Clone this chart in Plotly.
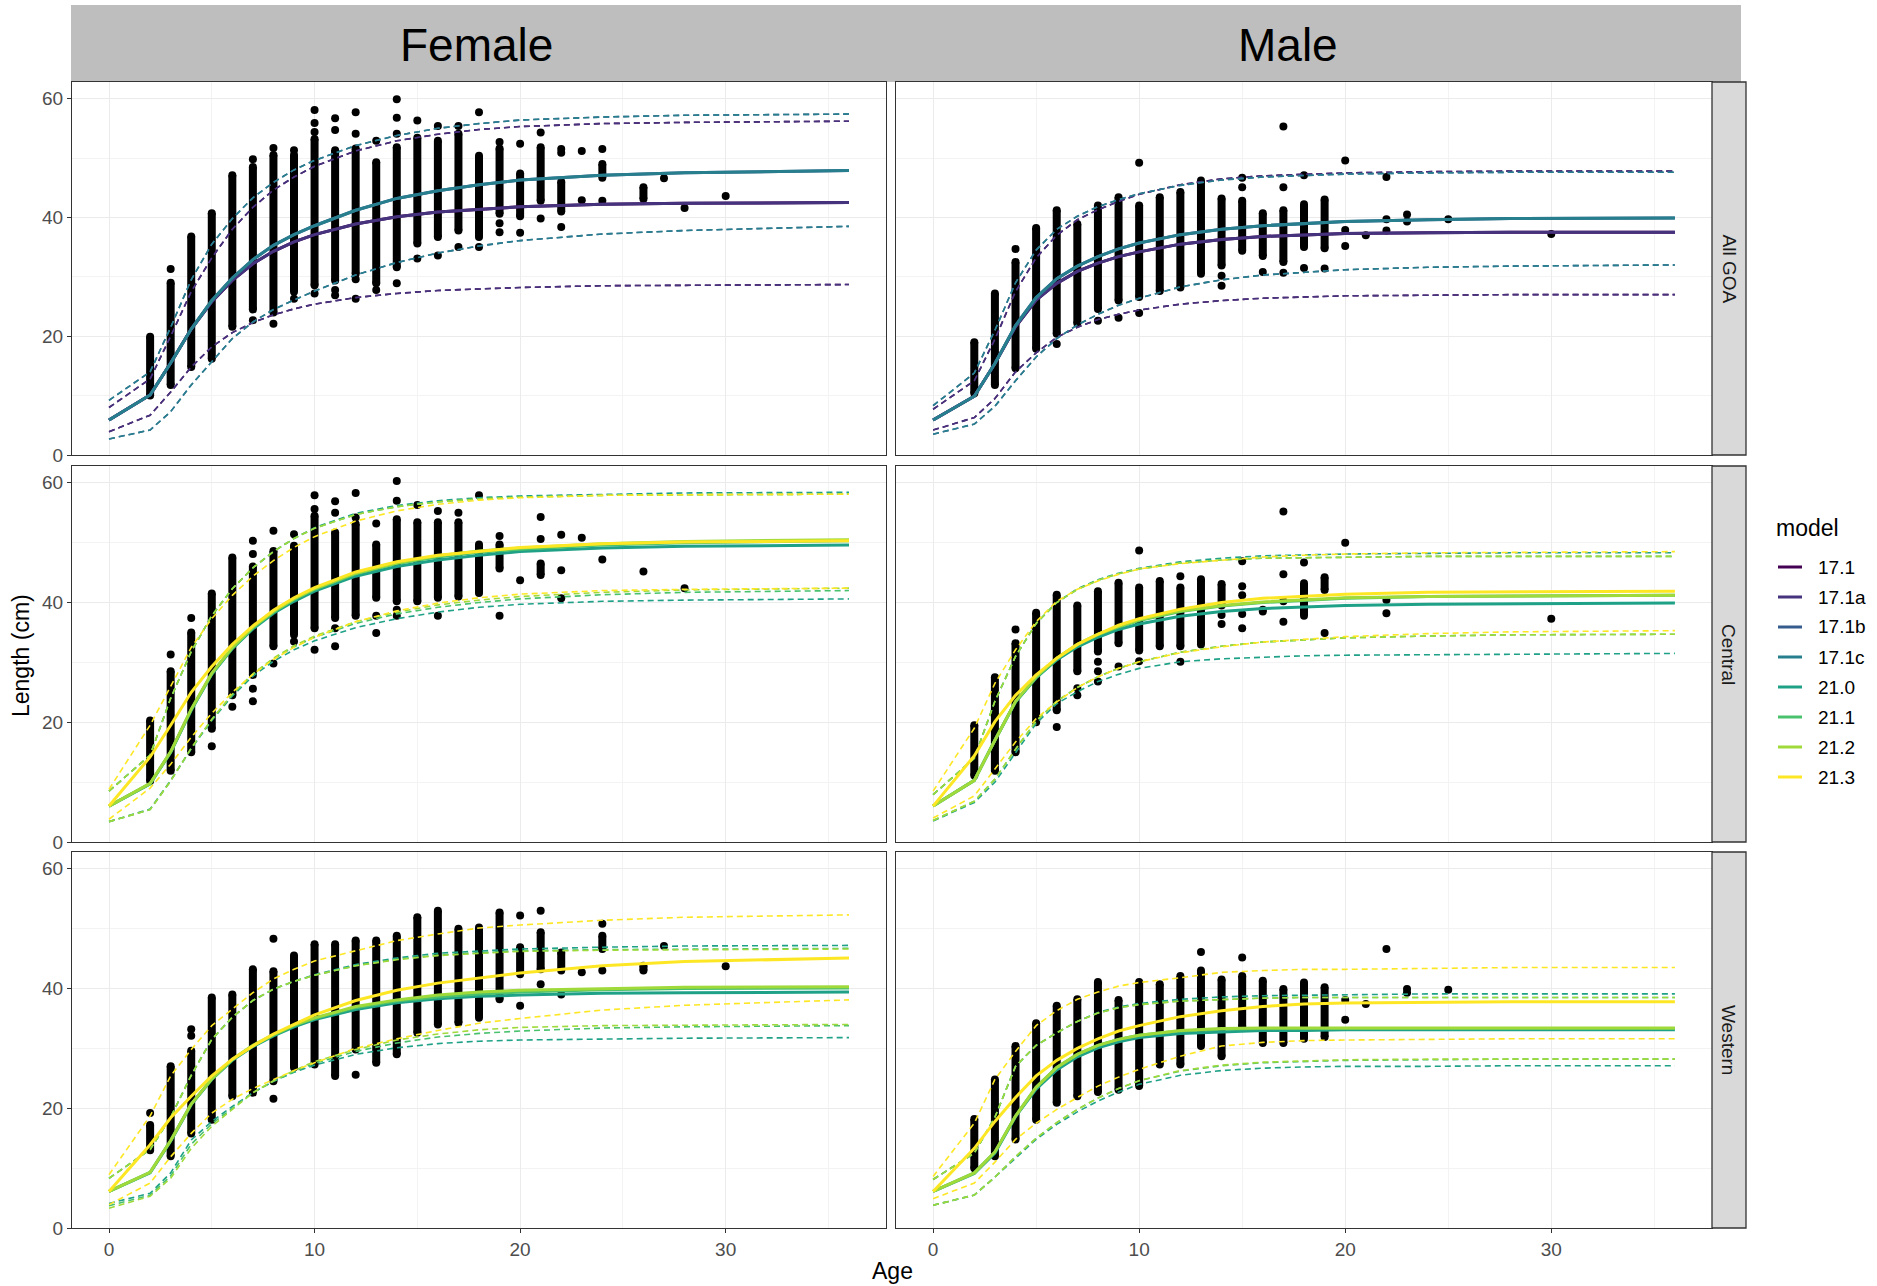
import plotly.graph_objects as go

# ---------------------------------------------------------------------------
# Facets, models and colours
# ---------------------------------------------------------------------------
SEXES = ["Female", "Male"]
REGIONS = ["All GOA", "Central", "Western"]
MODELS = ["17.1", "17.1a", "17.1b", "17.1c", "21.0", "21.1", "21.2", "21.3"]
MODEL_COLORS = ["#440154", "#46337E", "#365C8D", "#277F8E",
                "#1FA187", "#4AC16D", "#9FDA3A", "#FDE725"]

X_TICKS = [0, 10, 20, 30]
Y_TICKS = [0, 20, 40, 60]

# ages at which the fitted growth curves are tabulated
AGES = [0, 2, 3, 4, 5, 6, 7, 8, 9, 10, 12, 14, 16, 18, 20, 24, 28, 36]

# ---------------------------------------------------------------------------
# Fitted length-at-age (mean, lower, upper) -- All GOA
# ---------------------------------------------------------------------------
F_GOA_171_MEAN = [5.9, 10.1, 15.5, 21.2, 25.8, 29.4, 32.2, 34.3, 35.9, 37.1, 38.9, 40.1, 40.9, 41.4, 41.8, 42.2, 42.4, 42.5]
F_GOA_171_LO = [3.9, 6.7, 10.6, 14.8, 18.2, 20.6, 22.3, 23.6, 24.6, 25.4, 26.5, 27.2, 27.7, 28.0, 28.2, 28.5, 28.6, 28.7]
F_GOA_171_HI = [8.0, 12.8, 20.0, 27.5, 33.2, 38.0, 41.7, 44.6, 46.8, 48.6, 51.2, 52.9, 54.0, 54.8, 55.3, 55.8, 56.0, 56.2]
F_GOA_171C_MEAN = [5.9, 10.1, 15.5, 21.2, 26.0, 29.8, 32.9, 35.3, 37.1, 38.6, 41.2, 43.2, 44.5, 45.5, 46.3, 47.1, 47.5, 47.9]
F_GOA_171C_LO = [2.7, 4.2, 7.3, 11.8, 15.7, 19.6, 22.4, 24.5, 26.1, 27.6, 30.3, 32.4, 34.0, 35.2, 36.1, 37.2, 37.8, 38.5]
F_GOA_171C_HI = [9.2, 14.0, 21.5, 29.5, 35.5, 39.8, 43.3, 45.9, 48.0, 49.6, 52.1, 53.8, 55.0, 55.8, 56.4, 56.9, 57.2, 57.4]

M_GOA_171_MEAN = [5.9, 9.9, 15.4, 21.6, 26.1, 28.9, 30.9, 32.3, 33.4, 34.2, 35.5, 36.3, 36.8, 37.1, 37.3, 37.4, 37.5, 37.5]
M_GOA_171_LO = [4.2, 6.3, 9.5, 14.0, 17.2, 19.8, 21.5, 22.8, 23.7, 24.4, 25.4, 26.0, 26.4, 26.6, 26.8, 26.9, 27.0, 27.0]
M_GOA_171_HI = [7.7, 12.5, 19.5, 27.5, 33.2, 37.0, 39.6, 41.3, 42.7, 43.9, 45.5, 46.5, 47.0, 47.3, 47.5, 47.7, 47.8, 47.8]
M_GOA_171C_MEAN = [5.9, 9.9, 15.4, 21.8, 26.5, 29.7, 31.8, 33.4, 34.7, 35.7, 37.1, 38.0, 38.6, 39.0, 39.3, 39.6, 39.8, 39.9]
M_GOA_171C_LO = [3.5, 5.2, 8.2, 12.5, 16.5, 19.6, 21.9, 23.7, 25.2, 26.4, 28.3, 29.5, 30.3, 30.8, 31.2, 31.6, 31.8, 32.0]
M_GOA_171C_HI = [8.3, 13.8, 21.0, 29.0, 34.5, 38.0, 40.2, 41.8, 43.0, 44.0, 45.4, 46.3, 46.8, 47.1, 47.3, 47.5, 47.6, 47.6]

# ---------------------------------------------------------------------------
# Fitted length-at-age -- Central
# ---------------------------------------------------------------------------
F_C_210_MEAN = [6.0, 9.7, 15.0, 22.0, 28.0, 32.3, 35.6, 38.2, 40.2, 41.9, 44.4, 46.0, 47.1, 47.9, 48.5, 49.1, 49.4, 49.6]
F_C_210_LO = [3.4, 5.5, 10.3, 15.6, 20.3, 24.4, 27.7, 30.2, 32.1, 33.6, 35.8, 37.3, 38.4, 39.2, 39.7, 40.2, 40.4, 40.6]
F_C_210_HI = [8.5, 14.5, 24.0, 31.8, 37.8, 42.3, 45.8, 48.5, 50.7, 52.5, 54.9, 56.2, 57.0, 57.5, 57.8, 58.1, 58.3, 58.4]
F_C_211_MEAN = [6.0, 9.7, 15.0, 22.1, 28.1, 32.4, 35.8, 38.4, 40.5, 42.2, 44.8, 46.5, 47.6, 48.4, 48.9, 49.6, 50.0, 50.3]
F_C_211_LO = [3.4, 5.4, 10.2, 15.6, 20.4, 24.6, 28.0, 30.6, 32.6, 34.2, 36.5, 38.1, 39.2, 40.0, 40.6, 41.3, 41.7, 42.0]
F_C_211_HI = [8.5, 14.5, 24.0, 31.8, 37.8, 42.3, 45.8, 48.5, 50.7, 52.4, 54.7, 56.0, 56.8, 57.3, 57.6, 57.9, 58.0, 58.1]
F_C_212_MEAN = [6.0, 9.8, 15.1, 22.2, 28.2, 32.5, 35.9, 38.5, 40.6, 42.3, 44.9, 46.6, 47.8, 48.6, 49.1, 49.8, 50.2, 50.5]
F_C_212_LO = [3.4, 5.4, 10.2, 15.7, 20.5, 24.7, 28.1, 30.7, 32.8, 34.4, 36.8, 38.4, 39.6, 40.4, 41.0, 41.7, 42.1, 42.4]
F_C_212_HI = [8.5, 14.5, 24.0, 31.8, 37.8, 42.3, 45.8, 48.5, 50.7, 52.4, 54.7, 56.0, 56.8, 57.3, 57.6, 57.9, 58.0, 58.1]
F_C_213_MEAN = [6.0, 14.2, 19.5, 25.0, 29.3, 33.0, 36.1, 38.7, 40.8, 42.5, 45.1, 46.8, 47.9, 48.6, 49.2, 49.8, 50.1, 50.3]
F_C_213_LO = [3.8, 9.0, 13.0, 17.5, 21.5, 25.0, 28.0, 30.5, 32.5, 34.2, 36.8, 38.6, 39.9, 40.8, 41.4, 42.0, 42.2, 42.4]
F_C_213_HI = [8.8, 19.5, 26.0, 32.5, 37.3, 41.2, 44.4, 47.0, 49.2, 51.0, 53.6, 55.3, 56.4, 57.1, 57.5, 57.9, 58.0, 58.1]

M_C_210_MEAN = [6.0, 10.3, 17.0, 23.4, 27.4, 30.4, 32.6, 34.2, 35.5, 36.4, 37.7, 38.5, 39.0, 39.3, 39.5, 39.7, 39.8, 39.9]
M_C_210_LO = [3.5, 6.6, 10.0, 15.0, 19.8, 23.1, 25.1, 26.8, 28.0, 29.0, 30.1, 30.6, 30.9, 31.1, 31.2, 31.3, 31.4, 31.5]
M_C_210_HI = [7.9, 14.0, 23.5, 31.0, 36.5, 40.0, 42.3, 43.8, 44.9, 45.7, 46.8, 47.4, 47.8, 48.0, 48.1, 48.2, 48.3, 48.3]
M_C_211_MEAN = [6.0, 10.3, 17.0, 23.4, 27.5, 30.6, 32.9, 34.6, 35.9, 37.0, 38.5, 39.4, 40.0, 40.4, 40.7, 41.0, 41.1, 41.2]
M_C_211_LO = [3.6, 6.8, 10.5, 15.5, 20.2, 23.5, 25.8, 27.6, 29.0, 30.1, 31.7, 32.7, 33.4, 33.8, 34.1, 34.4, 34.6, 34.7]
M_C_211_HI = [7.9, 14.0, 23.5, 31.0, 36.5, 40.0, 42.2, 43.7, 44.8, 45.6, 46.6, 47.1, 47.4, 47.5, 47.6, 47.7, 47.7, 47.7]
M_C_212_MEAN = [6.0, 10.3, 17.0, 23.5, 27.6, 30.7, 33.0, 34.7, 36.0, 37.1, 38.6, 39.5, 40.1, 40.5, 40.8, 41.0, 41.1, 41.2]
M_C_212_LO = [3.6, 6.8, 10.5, 15.5, 20.2, 23.5, 25.8, 27.6, 29.0, 30.1, 31.7, 32.7, 33.4, 33.8, 34.1, 34.4, 34.6, 34.7]
M_C_212_HI = [7.9, 14.0, 23.5, 31.0, 36.5, 40.0, 42.2, 43.7, 44.8, 45.6, 46.6, 47.1, 47.4, 47.5, 47.6, 47.7, 47.7, 47.7]
M_C_213_MEAN = [6.0, 14.4, 20.1, 24.5, 27.9, 30.7, 33.0, 34.7, 36.2, 37.3, 38.9, 40.0, 40.7, 41.1, 41.4, 41.7, 41.8, 41.9]
M_C_213_LO = [4.0, 7.7, 12.2, 16.7, 20.6, 23.4, 25.8, 27.6, 29.0, 30.1, 31.6, 32.6, 33.4, 33.9, 34.3, 34.8, 35.1, 35.3]
M_C_213_HI = [8.5, 19.0, 26.5, 32.1, 36.8, 40.2, 42.2, 43.6, 44.7, 45.6, 46.5, 47.1, 47.6, 47.9, 48.1, 48.3, 48.4, 48.5]

# ---------------------------------------------------------------------------
# Fitted length-at-age -- Western
# ---------------------------------------------------------------------------
F_W_210_MEAN = [6.1, 9.2, 14.5, 20.6, 24.8, 28.0, 30.3, 32.1, 33.6, 34.8, 36.5, 37.6, 38.3, 38.7, 38.9, 39.2, 39.3, 39.4]
F_W_210_LO = [4.1, 5.8, 9.2, 14.7, 17.8, 20.3, 22.6, 24.5, 26.0, 27.2, 29.0, 30.1, 30.8, 31.2, 31.4, 31.6, 31.7, 31.8]
F_W_210_HI = [8.3, 13.1, 18.5, 25.5, 31.5, 35.2, 38.0, 39.9, 41.2, 42.3, 44.0, 45.1, 45.9, 46.3, 46.6, 46.9, 47.1, 47.2]
F_W_211_MEAN = [6.1, 9.3, 14.6, 20.7, 24.9, 28.1, 30.4, 32.2, 33.8, 35.0, 36.8, 37.9, 38.6, 39.1, 39.4, 39.8, 40.0, 40.1]
F_W_211_LO = [3.7, 5.5, 8.7, 14.0, 17.4, 20.0, 22.6, 24.5, 26.1, 27.5, 29.5, 30.9, 31.9, 32.5, 32.9, 33.4, 33.6, 33.8]
F_W_211_HI = [8.3, 13.1, 18.5, 25.5, 31.5, 35.2, 38.0, 39.9, 41.2, 42.2, 43.8, 44.9, 45.6, 46.0, 46.3, 46.5, 46.6, 46.7]
F_W_212_MEAN = [6.1, 9.3, 14.6, 20.7, 24.9, 28.2, 30.5, 32.3, 33.9, 35.1, 37.0, 38.1, 38.9, 39.4, 39.7, 40.0, 40.2, 40.3]
F_W_212_LO = [3.3, 5.3, 8.3, 13.3, 17.0, 19.8, 22.6, 24.6, 26.3, 27.8, 29.8, 31.4, 32.4, 33.1, 33.5, 33.8, 33.9, 34.0]
F_W_212_HI = [8.3, 13.1, 18.5, 25.5, 31.5, 35.2, 38.0, 39.9, 41.2, 42.2, 43.8, 44.8, 45.5, 45.9, 46.2, 46.4, 46.5, 46.6]
F_W_213_MEAN = [6.1, 13.9, 18.4, 22.0, 25.4, 28.2, 30.4, 32.4, 34.0, 35.6, 38.0, 39.7, 40.9, 41.8, 42.6, 43.8, 44.5, 45.1]
F_W_213_LO = [3.9, 7.5, 11.9, 15.8, 19.2, 21.5, 23.3, 24.8, 26.3, 27.6, 30.0, 31.6, 33.0, 34.2, 35.0, 36.4, 37.2, 38.1]
F_W_213_HI = [8.9, 18.7, 25.4, 29.8, 33.8, 36.5, 39.3, 41.6, 43.2, 44.6, 46.3, 48.0, 49.1, 50.1, 50.6, 51.4, 51.9, 52.3]

M_W_210_MEAN = [6.1, 9.1, 12.5, 18.6, 23.2, 26.4, 28.6, 30.1, 31.1, 31.8, 32.5, 32.8, 33.0, 33.0, 33.1, 33.1, 33.1, 33.1]
M_W_210_LO = [3.8, 5.5, 8.5, 11.7, 14.8, 17.3, 19.4, 21.2, 22.7, 24.0, 25.5, 26.3, 26.7, 26.9, 27.0, 27.0, 27.1, 27.1]
M_W_210_HI = [8.1, 12.5, 18.5, 27.0, 30.5, 32.6, 34.5, 36.0, 36.9, 37.5, 38.2, 38.6, 38.8, 38.9, 39.0, 39.1, 39.1, 39.1]
M_W_211_MEAN = [6.1, 9.2, 12.7, 18.7, 23.5, 26.8, 29.0, 30.5, 31.5, 32.2, 32.9, 33.2, 33.3, 33.3, 33.3, 33.3, 33.3, 33.3]
M_W_211_LO = [3.8, 5.5, 8.5, 11.9, 15.0, 17.6, 19.8, 21.7, 23.3, 24.6, 26.2, 27.1, 27.6, 27.8, 28.0, 28.1, 28.2, 28.2]
M_W_211_HI = [8.1, 12.5, 18.5, 27.0, 30.5, 32.6, 34.5, 35.9, 36.8, 37.3, 37.9, 38.2, 38.4, 38.5, 38.5, 38.5, 38.5, 38.5]
M_W_212_MEAN = [6.1, 9.2, 12.7, 18.7, 23.5, 26.8, 29.0, 30.5, 31.5, 32.2, 33.0, 33.3, 33.4, 33.4, 33.4, 33.4, 33.4, 33.4]
M_W_212_LO = [3.8, 5.5, 8.5, 11.9, 15.0, 17.6, 19.8, 21.7, 23.3, 24.6, 26.3, 27.2, 27.7, 27.9, 28.1, 28.2, 28.2, 28.2]
M_W_212_HI = [8.1, 12.5, 18.5, 27.0, 30.5, 32.6, 34.5, 35.9, 36.8, 37.3, 37.9, 38.2, 38.4, 38.5, 38.5, 38.5, 38.5, 38.5]
M_W_213_MEAN = [6.1, 13.3, 17.8, 21.8, 25.4, 28.0, 30.0, 31.6, 32.9, 33.8, 35.3, 36.3, 37.0, 37.4, 37.6, 37.7, 37.8, 37.8]
M_W_213_LO = [4.9, 7.5, 11.0, 14.8, 17.5, 19.8, 21.8, 23.7, 25.2, 26.5, 28.7, 30.4, 31.0, 31.3, 31.4, 31.5, 31.6, 31.6]
M_W_213_HI = [8.6, 17.5, 24.8, 29.5, 33.8, 36.3, 38.2, 39.4, 40.4, 41.0, 41.8, 42.7, 43.0, 43.2, 43.2, 43.4, 43.5, 43.5]

# ---------------------------------------------------------------------------
# Observed lengths: dense age columns (age, min, max) + scattered fish
# ---------------------------------------------------------------------------
F_GOA_COL_AGE = [2, 3, 4, 5, 6, 7, 8, 9, 10, 11, 12, 13, 14, 15, 16, 17, 18, 19, 20, 21, 22, 24, 26]
F_GOA_COL_LO = [10.0, 11.8, 14.8, 16.2, 21.6, 24.5, 24.0, 27.5, 28.6, 29.4, 30.5, 28.9, 31.6, 35.6, 36.7, 37.8, 36.7, 40.6, 40.2, 42.8, 41.0, 46.7, 43.1]
F_GOA_COL_HI = [19.9, 29.0, 36.8, 40.7, 47.1, 48.5, 50.5, 50.5, 53.2, 51.3, 51.6, 49.3, 51.8, 53.4, 52.9, 54.1, 50.4, 51.6, 47.4, 51.8, 46.0, 49.0, 45.1]
F_GOA_PT_AGE = [3, 7, 7, 8, 8, 9, 9, 10, 10, 10, 10, 11, 11, 11, 11, 12, 12, 12, 12, 13, 13,
                14, 14, 14, 14, 15, 15, 16, 16, 17, 17, 18, 18, 19, 19, 19, 20, 20, 21, 21,
                22, 22, 22, 23, 23, 24, 24, 27, 28, 30]
F_GOA_PT_LEN = [31.3, 49.8, 22.7, 51.7, 22.1, 51.3, 26.3, 58.1, 55.9, 54.4, 27.2, 56.7, 54.7, 27.8, 26.9, 57.7, 54.1, 29.6, 26.3, 52.9, 27.8,
                59.9, 56.8, 54.1, 28.9, 56.3, 33.1, 55.4, 33.6, 55.4, 35.0, 57.7, 35.0, 52.7, 39.0, 37.5, 52.4, 37.4, 54.3, 39.8,
                51.5, 50.9, 38.4, 51.2, 42.9, 51.5, 42.8, 46.6, 41.6, 43.6]

M_GOA_COL_AGE = [2, 3, 4, 5, 6, 7, 8, 9, 10, 11, 12, 13, 14, 15, 16, 17, 18, 19]
M_GOA_COL_LO = [10.4, 11.8, 14.6, 17.9, 20.4, 22.2, 24.6, 26.0, 26.6, 27.6, 28.2, 30.5, 31.9, 34.4, 33.5, 32.5, 35.0, 34.8]
M_GOA_COL_HI = [19.0, 27.2, 32.5, 38.2, 41.2, 38.9, 42.0, 43.4, 42.0, 43.4, 44.3, 46.2, 43.2, 42.8, 40.7, 41.2, 42.2, 43.0]
M_GOA_PT_AGE = [4, 6, 8, 9, 10, 10, 14, 14, 15, 15, 16, 17, 17, 17, 18, 18, 19,
                20, 20, 20, 21, 22, 22, 22, 23, 23, 25, 30]
M_GOA_PT_LEN = [34.7, 18.7, 22.6, 23.1, 49.2, 23.9, 30.2, 28.5, 46.7, 45.1, 30.8, 55.3, 45.1, 30.7, 47.1, 31.5, 31.4,
                49.6, 37.9, 35.2, 37.0, 46.8, 39.7, 37.8, 40.5, 39.3, 39.7, 37.2]

F_C_COL_AGE = [2, 3, 4, 5, 6, 7, 8, 9, 10, 11, 12, 13, 14, 15, 16, 17, 18, 19, 21]
F_C_COL_LO = [10.2, 11.9, 15.0, 18.9, 24.5, 27.9, 32.7, 34.6, 35.7, 37.4, 37.8, 40.8, 40.2, 40.2, 40.8, 41.0, 41.6, 45.7, 44.6]
F_C_COL_HI = [20.3, 28.5, 35.0, 41.5, 47.5, 46.0, 48.6, 49.5, 54.5, 51.7, 53.1, 49.7, 53.9, 53.4, 53.4, 53.4, 49.7, 49.7, 46.5]
F_C_PT_AGE = [3, 4, 5, 6, 7, 7, 7, 7, 8, 8, 9, 9, 10, 10, 10, 11, 11, 11, 11, 12, 12,
              13, 13, 13, 14, 14, 14, 14, 15, 16, 16, 17, 18, 19, 19, 20, 21, 21,
              22, 22, 22, 23, 24, 26, 28]
F_C_PT_LEN = [31.3, 37.4, 16.0, 22.6, 50.3, 48.1, 25.6, 23.5, 52.0, 29.8, 51.4, 33.5, 57.9, 55.6, 32.1, 56.9, 55.0, 35.7, 32.7, 58.3, 54.2,
              53.2, 37.8, 34.9, 60.3, 57.0, 38.8, 37.8, 56.3, 55.3, 37.8, 55.0, 57.9, 51.1, 37.8, 43.7, 54.3, 50.6,
              51.3, 45.4, 40.7, 50.8, 47.2, 45.2, 42.4]

M_C_COL_AGE = [2, 3, 4, 5, 6, 7, 8, 9, 10, 11, 12, 13, 14, 18, 19]
M_C_COL_LO = [11.1, 11.9, 15.0, 20.0, 22.0, 28.5, 31.8, 33.2, 32.0, 32.7, 32.7, 33.0, 39.5, 37.8, 42.1]
M_C_COL_HI = [19.5, 27.5, 33.2, 38.3, 41.3, 39.5, 41.9, 43.3, 42.5, 43.6, 42.5, 43.9, 43.1, 43.2, 44.2]
M_C_PT_AGE = [4, 6, 7, 7, 8, 8, 8, 9, 10, 10, 12, 12, 14, 14, 15, 15, 15, 15, 15, 16, 16,
              17, 17, 17, 17, 18, 19, 20, 22, 22, 30]
M_C_PT_LEN = [35.5, 19.2, 25.7, 24.5, 30.1, 28.5, 26.8, 29.3, 48.7, 30.2, 44.4, 30.1, 37.9, 36.4, 46.9, 42.7, 41.2, 38.1, 35.7, 38.8, 38.5,
              55.2, 44.7, 40.2, 36.8, 46.7, 34.9, 50.0, 40.4, 38.2, 37.3]

F_W_COL_AGE = [2, 3, 4, 5, 6, 7, 8, 9, 10, 11, 12, 13, 14, 15, 16, 17, 18, 19, 20, 21, 22, 24, 26]
F_W_COL_LO = [13.0, 12.0, 15.8, 18.1, 22.0, 22.6, 24.5, 26.8, 27.3, 25.4, 29.8, 27.6, 29.0, 32.6, 34.0, 34.3, 35.1, 38.2, 42.4, 43.2, 43.0, 46.6, 43.0]
F_W_COL_HI = [17.2, 27.0, 29.6, 38.5, 39.0, 43.2, 42.9, 45.5, 47.4, 47.4, 48.0, 48.0, 48.8, 51.9, 53.0, 50.0, 50.2, 52.7, 46.9, 49.4, 46.0, 48.8, 43.8]
F_W_PT_AGE = [2, 4, 4, 8, 8, 12, 20, 20, 21, 21, 22, 23, 24, 24, 27, 30]
F_W_PT_LEN = [19.2, 33.2, 32.1, 48.3, 21.6, 25.6, 52.2, 37.1, 53.0, 40.7, 39.0, 42.7, 50.8, 43.0, 47.1, 43.7]

M_W_COL_AGE = [2, 3, 4, 5, 6, 7, 8, 9, 10, 11, 12, 13, 14, 15, 16, 17, 18, 19]
M_W_COL_LO = [10.0, 12.0, 14.8, 18.1, 20.9, 22.0, 22.7, 23.1, 23.7, 27.3, 27.3, 30.4, 28.7, 33.7, 30.9, 30.9, 31.6, 31.9]
M_W_COL_HI = [18.2, 24.8, 30.4, 34.2, 37.1, 38.2, 41.1, 38.1, 41.1, 40.7, 42.1, 43.0, 41.5, 42.1, 41.3, 39.9, 41.0, 40.2]
M_W_PT_AGE = [13, 15, 20, 20, 21, 22, 23, 23, 25]
M_W_PT_LEN = [46.1, 45.2, 38.1, 34.8, 37.4, 46.6, 39.9, 39.3, 39.8]

# ---------------------------------------------------------------------------
# Assemble per-panel tables
# ---------------------------------------------------------------------------
CURVES = {
    ("Female", "All GOA"): {
        "17.1": (F_GOA_171_MEAN, F_GOA_171_LO, F_GOA_171_HI),
        "17.1a": (F_GOA_171_MEAN, F_GOA_171_LO, F_GOA_171_HI),
        "17.1b": (F_GOA_171C_MEAN, F_GOA_171C_LO, F_GOA_171C_HI),
        "17.1c": (F_GOA_171C_MEAN, F_GOA_171C_LO, F_GOA_171C_HI),
    },
    ("Male", "All GOA"): {
        "17.1": (M_GOA_171_MEAN, M_GOA_171_LO, M_GOA_171_HI),
        "17.1a": (M_GOA_171_MEAN, M_GOA_171_LO, M_GOA_171_HI),
        "17.1b": (M_GOA_171C_MEAN, M_GOA_171C_LO, M_GOA_171C_HI),
        "17.1c": (M_GOA_171C_MEAN, M_GOA_171C_LO, M_GOA_171C_HI),
    },
    ("Female", "Central"): {
        "21.0": (F_C_210_MEAN, F_C_210_LO, F_C_210_HI),
        "21.1": (F_C_211_MEAN, F_C_211_LO, F_C_211_HI),
        "21.2": (F_C_212_MEAN, F_C_212_LO, F_C_212_HI),
        "21.3": (F_C_213_MEAN, F_C_213_LO, F_C_213_HI),
    },
    ("Male", "Central"): {
        "21.0": (M_C_210_MEAN, M_C_210_LO, M_C_210_HI),
        "21.1": (M_C_211_MEAN, M_C_211_LO, M_C_211_HI),
        "21.2": (M_C_212_MEAN, M_C_212_LO, M_C_212_HI),
        "21.3": (M_C_213_MEAN, M_C_213_LO, M_C_213_HI),
    },
    ("Female", "Western"): {
        "21.0": (F_W_210_MEAN, F_W_210_LO, F_W_210_HI),
        "21.1": (F_W_211_MEAN, F_W_211_LO, F_W_211_HI),
        "21.2": (F_W_212_MEAN, F_W_212_LO, F_W_212_HI),
        "21.3": (F_W_213_MEAN, F_W_213_LO, F_W_213_HI),
    },
    ("Male", "Western"): {
        "21.0": (M_W_210_MEAN, M_W_210_LO, M_W_210_HI),
        "21.1": (M_W_211_MEAN, M_W_211_LO, M_W_211_HI),
        "21.2": (M_W_212_MEAN, M_W_212_LO, M_W_212_HI),
        "21.3": (M_W_213_MEAN, M_W_213_LO, M_W_213_HI),
    },
}

OBS = {
    ("Female", "All GOA"): (F_GOA_COL_AGE, F_GOA_COL_LO, F_GOA_COL_HI, F_GOA_PT_AGE, F_GOA_PT_LEN),
    ("Male", "All GOA"): (M_GOA_COL_AGE, M_GOA_COL_LO, M_GOA_COL_HI, M_GOA_PT_AGE, M_GOA_PT_LEN),
    ("Female", "Central"): (F_C_COL_AGE, F_C_COL_LO, F_C_COL_HI, F_C_PT_AGE, F_C_PT_LEN),
    ("Male", "Central"): (M_C_COL_AGE, M_C_COL_LO, M_C_COL_HI, M_C_PT_AGE, M_C_PT_LEN),
    ("Female", "Western"): (F_W_COL_AGE, F_W_COL_LO, F_W_COL_HI, F_W_PT_AGE, F_W_PT_LEN),
    ("Male", "Western"): (M_W_COL_AGE, M_W_COL_LO, M_W_COL_HI, M_W_PT_AGE, M_W_PT_LEN),
}

# ---------------------------------------------------------------------------
# Page geometry: positions in a 1877 x 1286 frame; the figure is drawn a
# little taller so the whole frame is filled.
# ---------------------------------------------------------------------------
W = 1877
FRAME_H = 1286
FIG_H = 1297
COL_X = [(72, 886), (896, 1712)]
ROW_Y = [(82, 455), (466, 842), (852, 1228)]
STRIP_R = (1712, 1746)
FONT = "Liberation Sans, Arial, Helvetica, sans-serif"
COLOR_OF = dict(zip(MODELS, MODEL_COLORS))


def px_x(x):
    return x / W


def px_y(y):
    return 1 - y / FRAME_H


fig = go.Figure()
layout = {}

for r, region in enumerate(REGIONS):
    for c, sex in enumerate(SEXES):
        idx = r * 2 + c + 1
        suffix = "" if idx == 1 else str(idx)
        xref, yref = "x" + suffix, "y" + suffix

        x0, x1 = COL_X[c]
        yt, yb = ROW_Y[r]
        layout["xaxis" + suffix] = dict(
            domain=[px_x(x0), px_x(x1)], anchor=yref, range=[-1.8, 37.8],
            tickvals=X_TICKS, showticklabels=(r == 2), ticks="outside" if r == 2 else "",
            ticklen=4, tickwidth=1, tickcolor="#333333",
            tickfont=dict(family=FONT, size=19, color="#4D4D4D"),
            showgrid=True, gridcolor="#EBEBEB", gridwidth=1.2,
            minor=dict(dtick=5, tick0=5, showgrid=True, gridcolor="#F3F3F3", gridwidth=0.8, ticks=""),
            zeroline=False, showline=True, mirror=True, linecolor="#333333", linewidth=1.3,
        )
        layout["yaxis" + suffix] = dict(
            domain=[px_y(yb), px_y(yt)], anchor=xref, range=[0, 62.8],
            tickvals=Y_TICKS, showticklabels=(c == 0), ticks="outside" if c == 0 else "",
            ticklen=4, tickwidth=1, tickcolor="#333333",
            tickfont=dict(family=FONT, size=19, color="#4D4D4D"),
            showgrid=True, gridcolor="#EBEBEB", gridwidth=1.2,
            minor=dict(dtick=10, tick0=10, showgrid=True, gridcolor="#F3F3F3", gridwidth=0.8, ticks=""),
            zeroline=False, showline=True, mirror=True, linecolor="#333333", linewidth=1.3,
        )

        # observed fish: dense age columns drawn as stacked dots
        col_age, col_lo, col_hi, pt_age, pt_len = OBS[(sex, region)]
        seg_x, seg_y = [], []
        for a, lo, hi in zip(col_age, col_lo, col_hi):
            seg_x += [a, a, None]
            seg_y += [lo, hi, None]
        fig.add_trace(go.Scatter(
            x=seg_x, y=seg_y, mode="lines+markers", xaxis=xref, yaxis=yref,
            line=dict(color="black", width=8), marker=dict(color="black", size=8),
            showlegend=False, hoverinfo="skip"))
        fig.add_trace(go.Scatter(
            x=pt_age, y=pt_len, mode="markers", xaxis=xref, yaxis=yref,
            marker=dict(color="black", size=8), showlegend=False, hoverinfo="skip"))

        # fitted growth curves: dashed intervals then solid means
        curves = CURVES[(sex, region)]
        for model in MODELS:
            if model not in curves:
                continue
            _, lo, hi = curves[model]
            for band in (lo, hi):
                fig.add_trace(go.Scatter(
                    x=AGES, y=band, mode="lines", xaxis=xref, yaxis=yref,
                    line=dict(color=COLOR_OF[model], width=1.6, dash="6px,4px"),
                    showlegend=False, hoverinfo="skip"))
        for model in MODELS:
            if model not in curves:
                continue
            mean = curves[model][0]
            fig.add_trace(go.Scatter(
                x=AGES, y=mean, mode="lines", xaxis=xref, yaxis=yref,
                line=dict(color=COLOR_OF[model], width=3),
                name=model, showlegend=False, hoverinfo="skip"))

shapes = []
annotations = []

# top facet strip
shapes.append(dict(type="rect", xref="paper", yref="paper",
                   x0=px_x(71), x1=px_x(1741), y0=px_y(82), y1=px_y(5),
                   fillcolor="#BEBEBE", line=dict(width=0), layer="below"))
for label, cx in zip(SEXES, [476, 1288]):
    annotations.append(dict(text=label, xref="paper", yref="paper", x=px_x(cx), y=px_y(45),
                            showarrow=False, xanchor="center", yanchor="middle",
                            font=dict(family=FONT, size=46, color="black")))

# right facet strips
for region, (yt, yb) in zip(REGIONS, ROW_Y):
    shapes.append(dict(type="rect", xref="paper", yref="paper",
                       x0=px_x(STRIP_R[0]), x1=px_x(STRIP_R[1]), y0=px_y(yb), y1=px_y(yt),
                       fillcolor="#D9D9D9", line=dict(color="#333333", width=1.3)))
    annotations.append(dict(text=region, xref="paper", yref="paper",
                            x=px_x((STRIP_R[0] + STRIP_R[1]) / 2), y=px_y((yt + yb) / 2),
                            textangle=90, showarrow=False, xanchor="center", yanchor="middle",
                            font=dict(family=FONT, size=19, color="#1A1A1A")))

# axis titles
annotations.append(dict(text="Age", xref="paper", yref="paper", x=px_x(892), y=px_y(1271),
                        showarrow=False, xanchor="center", yanchor="middle",
                        font=dict(family=FONT, size=23, color="black")))
annotations.append(dict(text="Length (cm)", xref="paper", yref="paper", x=px_x(21), y=px_y(656),
                        textangle=-90, showarrow=False, xanchor="center", yanchor="middle",
                        font=dict(family=FONT, size=23, color="black")))

# legend
annotations.append(dict(text="model", xref="paper", yref="paper", x=px_x(1774), y=px_y(528),
                        showarrow=False, xanchor="left", yanchor="middle",
                        font=dict(family=FONT, size=23, color="black")))
for i, (model, color) in enumerate(zip(MODELS, MODEL_COLORS)):
    ly = 567 + 30 * i
    shapes.append(dict(type="line", xref="paper", yref="paper",
                       x0=px_x(1778), x1=px_x(1802), y0=px_y(ly), y1=px_y(ly),
                       line=dict(color=color, width=3)))
    annotations.append(dict(text=model, xref="paper", yref="paper", x=px_x(1816), y=px_y(ly),
                            showarrow=False, xanchor="left", yanchor="middle",
                            font=dict(family=FONT, size=19, color="black")))

fig.update_layout(
    width=W, height=FIG_H, margin=dict(l=0, r=0, t=0, b=0),
    paper_bgcolor="white", plot_bgcolor="white",
    showlegend=False, shapes=shapes, annotations=annotations,
    **layout,
)

fig.write_html("out.html")
